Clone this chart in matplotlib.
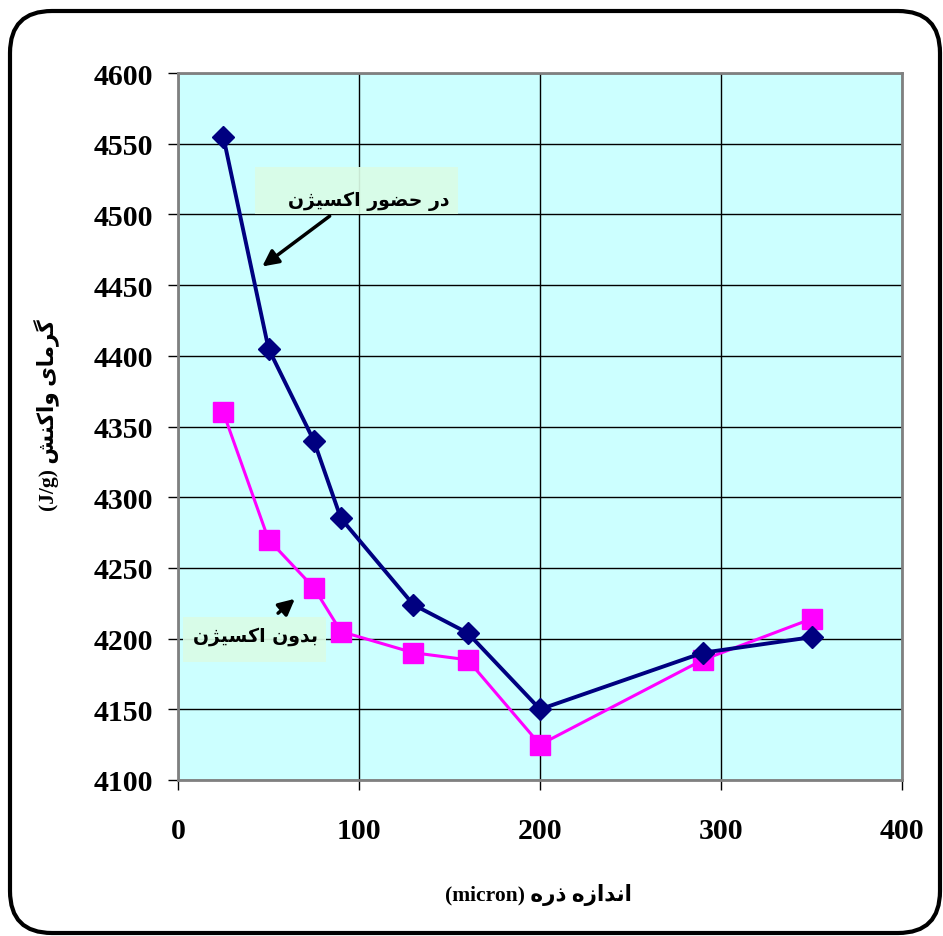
import matplotlib.pyplot as plt
from matplotlib.patches import FancyBboxPatch, Rectangle

# particle size (micron) vs heat of reaction (J/g)
size_o2 = [25, 50, 75, 90, 130, 160, 200, 290, 350]
heat_o2 = [4555, 4405, 4340, 4285, 4224, 4204, 4150, 4190, 4201]
size_no_o2 = [25, 50, 75, 90, 130, 160, 200, 290, 350]
heat_no_o2 = [4360, 4270, 4236, 4205, 4190, 4185, 4125, 4185, 4214]

x_ticks = [0, 100, 200, 300, 400]
y_ticks = list(range(4100, 4601, 50))

# Persian labels, already shaped (presentation forms, visual order)
lbl_o2 = "\uFEE5\uFB8B\uFBFF\uFEB4\uFB90\uFE8D \uFEAD\uFEEE\uFEC0\uFEA3 \uFEAD\uFEA9"      # در حضور اکسیژن
lbl_no_o2 = "\uFEE5\uFB8B\uFBFF\uFEB4\uFB90\uFE8D \uFEE5\uFEED\uFEAA\uFE91"              # بدون اکسیژن
y_label = "(J/g) \uFEB6\uFEE8\uFB90\uFE8D\uFEED \uFBFC\uFE8E\uFEE3\uFEAE\uFB94"           # گرمای واکنش (J/g)
x_label = "(micron) \uFEE9\uFEAD\uFEAB \uFEE9\uFEAF\uFE8D\uFEAA\uFEE7\uFE8D"              # اندازه ذره (micron)

serif = ['Liberation Serif', 'DejaVu Sans']
sans = ['DejaVu Sans']
box_color = '#DAFCE6'

fig = plt.figure(figsize=(9.43, 9.37), dpi=100)
ax = fig.add_axes([0.1888, 0.1665, 0.7678, 0.7545])
ax.set_facecolor('#CCFFFF')

ax.plot(size_o2, heat_o2, color='#000080', lw=2.8, marker='D', ms=11,
        mfc='#000080', mec='#000080', zorder=4)
ax.plot(size_no_o2, heat_no_o2, color='#FF00FF', lw=2.2, marker='s', ms=15,
        mfc='#FF00FF', mec='#FF00FF', zorder=3)

ax.set_xlim(0, 400)
ax.set_ylim(4100, 4600)
ax.set_xticks(x_ticks)
ax.set_yticks(y_ticks)
ax.grid(True, color='black', lw=1, zorder=1)
ax.set_axisbelow(True)
for s in ax.spines.values():
    s.set_color('#808080')
    s.set_linewidth(2)
ax.tick_params(direction='out', length=7, width=1, color='black')
ax.tick_params(axis='y', pad=11)
ax.tick_params(axis='x', pad=20)
for t in ax.get_xticklabels() + ax.get_yticklabels():
    t.set_family(serif)
    t.set_fontweight('bold')
    t.set_fontsize(21.5)

fig.text(0.571, 0.045, x_label, family=serif, weight='bold', fontsize=15.5,
         ha='center', va='center')
fig.text(0.049, 0.557, y_label, family=serif, weight='bold', fontsize=15.5,
         ha='center', va='center', rotation=90)

# caption boxes
ax.add_patch(Rectangle((42.5, 4500.3), 112.2, 33.2, fc=box_color, ec='none',
                       alpha=0.92, zorder=5))
ax.add_patch(Rectangle((2.8, 4183.5), 79.0, 31.8, fc=box_color, ec='none',
                       alpha=0.92, zorder=5))

# arrows and captions
ax.annotate('', xy=(45.3, 4462), xytext=(85, 4500),
            arrowprops=dict(arrowstyle='-|>', color='black', lw=2.5,
                            mutation_scale=24), zorder=6)
ax.text(105.5, 4510, lbl_o2, family=sans, weight='bold', fontsize=13.6,
        ha='center', va='center', zorder=6)

ax.annotate('', xy=(65.7, 4229.4), xytext=(54.1, 4216.7),
            arrowprops=dict(arrowstyle='-|>', color='black', lw=2.5,
                            mutation_scale=24), zorder=6)
ax.text(43, 4202, lbl_no_o2, family=sans, weight='bold', fontsize=13.6,
        ha='center', va='center', zorder=6)

# rounded outer frame
frame = FancyBboxPatch((0.10, 0.03), 9.30, 9.22,
                       boxstyle='round,pad=0,rounding_size=0.42',
                       transform=fig.dpi_scale_trans, fc='none', ec='black',
                       lw=3, zorder=0)
fig.patches.append(frame)

fig.savefig('out.png', dpi=100, facecolor='white')
